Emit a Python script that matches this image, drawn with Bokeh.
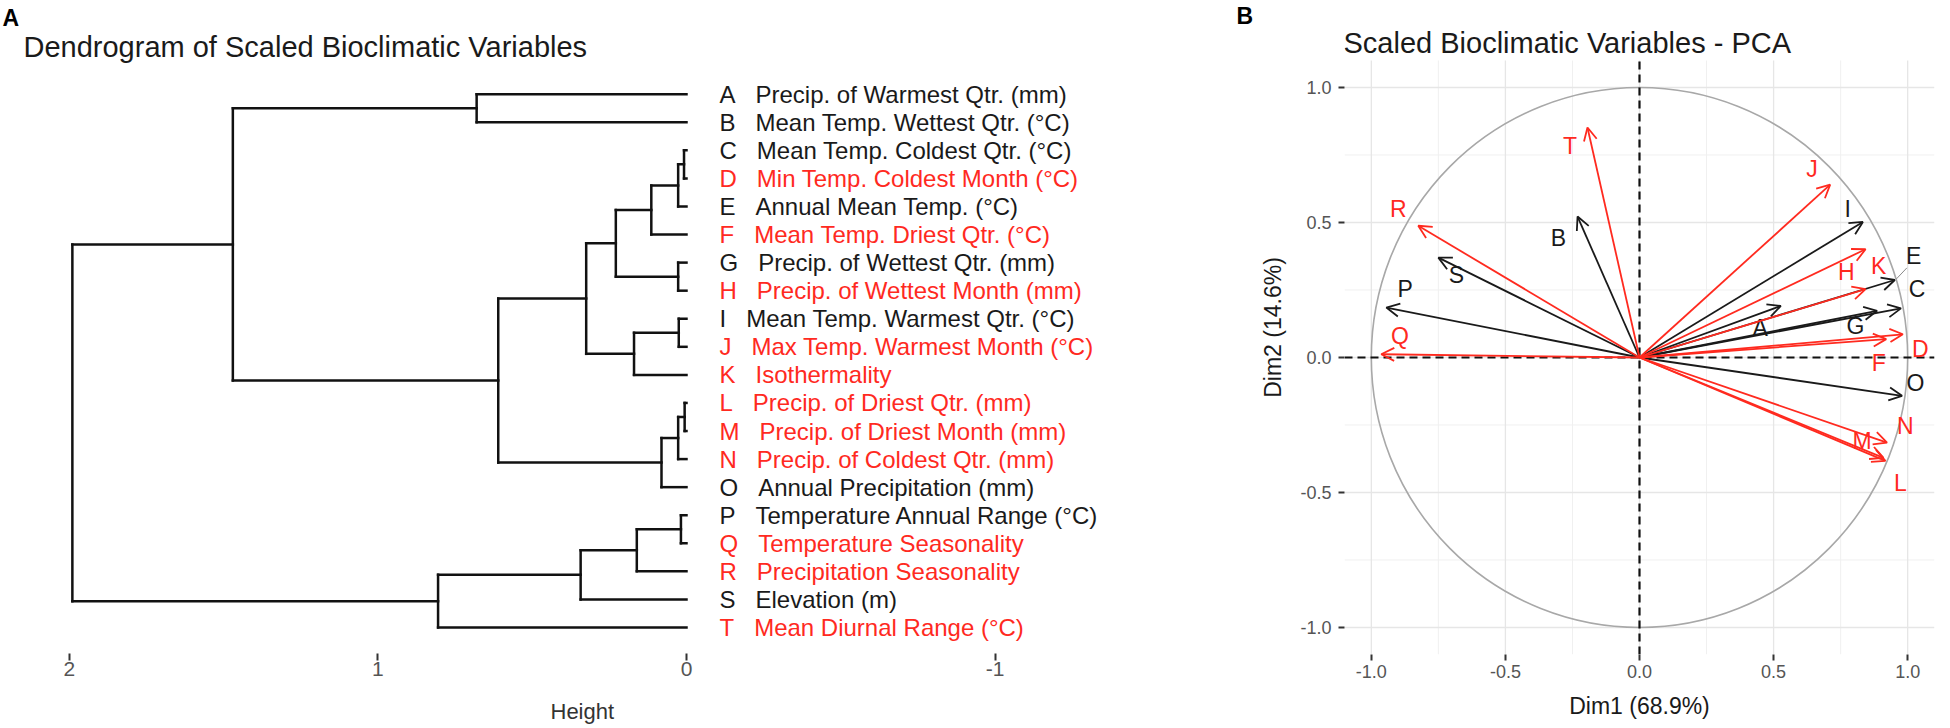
from bokeh.plotting import figure
from bokeh.models import ColumnDataSource, Range1d, FixedTicker, Arrow, OpenHead, Title
from bokeh.layouts import row
from bokeh.embed import file_html
from bokeh.resources import INLINE
from bokeh.core.properties import value

FONT = "Liberation Sans"
RED = "#ff2a1f"
INK = "#1a1a1a"

# ---------------- data ----------------
codes = list("ABCDEFGHIJKLMNOPQRST")
descriptions = [
    "Precip. of Warmest Qtr. (mm)",
    "Mean Temp. Wettest Qtr. (°C)",
    "Mean Temp. Coldest Qtr. (°C)",
    "Min Temp. Coldest Month (°C)",
    "Annual Mean Temp. (°C)",
    "Mean Temp. Driest Qtr. (°C)",
    "Precip. of Wettest Qtr. (mm)",
    "Precip. of Wettest Month (mm)",
    "Mean Temp. Warmest Qtr. (°C)",
    "Max Temp. Warmest Month (°C)",
    "Isothermality",
    "Precip. of Driest Qtr. (mm)",
    "Precip. of Driest Month (mm)",
    "Precip. of Coldest Qtr. (mm)",
    "Annual Precipitation (mm)",
    "Temperature Annual Range (°C)",
    "Temperature Seasonality",
    "Precipitation Seasonality",
    "Elevation (m)",
    "Mean Diurnal Range (°C)",
]
selected = ["D", "F", "H", "J", "K", "L", "M", "N", "Q", "R", "T"]

# hierarchical clustering merges (leaves 0..19, merge k creates node 20+k)
merge_left = [2, 11, 15, 8, 6, 20, 21, 26, 25, 22, 23, 28, 31, 29, 32, 0, 33, 35, 37]
merge_right = [3, 12, 16, 9, 7, 4, 13, 14, 5, 17, 10, 24, 30, 18, 27, 1, 19, 34, 36]
merge_height = [0.008, 0.006, 0.018, 0.025, 0.027, 0.027, 0.027, 0.081, 0.114,
                0.161, 0.170, 0.229, 0.325, 0.343, 0.610, 0.680, 0.805, 1.470, 1.990]
height_ticks = [2, 1, 0, -1]

# PCA variable coordinates
dim1 = [0.527, -0.231, 0.975, 0.982, 0.952, 0.920, 0.886, 0.843, 0.833, 0.711,
        0.843, 0.917, 0.910, 0.923, 0.979, -0.944, -0.963, -0.825, -0.750, -0.194]
dim2 = [0.191, 0.522, 0.182, 0.086, 0.287, 0.068, 0.173, 0.253, 0.502, 0.640,
        0.401, -0.383, -0.372, -0.315, -0.142, 0.185, 0.012, 0.488, 0.370, 0.852]
label_x = [0.450, -0.302, 1.035, 1.047, 1.022, 0.892, 0.805, 0.771, 0.776, 0.643,
           0.892, 0.973, 0.830, 0.991, 1.029, -0.874, -0.893, -0.899, -0.683, -0.259]
label_y = [0.111, 0.444, 0.253, 0.031, 0.377, -0.019, 0.117, 0.315, 0.549, 0.697,
           0.340, -0.463, -0.309, -0.253, -0.093, 0.253, 0.080, 0.549, 0.304, 0.784]
dim_ticks = [-1.0, -0.5, 0.0, 0.5, 1.0]
dim_minor_ticks = [-0.75, -0.25, 0.25, 0.75]

colors = [RED if c in selected else INK for c in codes]
n = len(codes)

# ---------------- dendrogram ----------------
node_y = [float(n - i) for i in range(n)]
node_h = [0.0] * n
sx0, sy0, sx1, sy1 = [], [], [], []
for a, b, h in zip(merge_left, merge_right, merge_height):
    ya, yb = node_y[a], node_y[b]
    sx0 += [h, node_h[a], node_h[b]]
    sy0 += [ya, ya, yb]
    sx1 += [h, h, h]
    sy1 += [yb, ya, yb]
    node_y.append((ya + yb) / 2.0)
    node_h.append(h)

p1 = figure(frame_width=1257, frame_height=653,
            x_range=Range1d(2.2229, -1.8503), y_range=Range1d(0.0737, 23.338),
            min_border_left=0, min_border_right=0, min_border_top=0, min_border_bottom=50,
            output_backend="svg", toolbar_location=None, title=None,
            y_axis_location=None)
p1.outline_line_color = None
p1.grid.visible = False

p1.segment(x0=sx0, y0=sy0, x1=sx1, y1=sy1, line_color="#111111", line_width=2.5,
           line_cap="square")

leaf_src = ColumnDataSource(dict(
    x=[-0.1069] * n,
    y=node_y[:n],
    text=[c + "\u00a0\u00a0\u00a0" + d for c, d in zip(codes, descriptions)],
    color=colors,
))
p1.text(x="x", y="y", text="text", text_color="color", source=leaf_src,
        text_font=value(FONT), text_font_size="24px", text_align="left",
        text_baseline="middle")

# panel title and tags (inside the frame area)
p1.text(x=[2.1484], y=[21.664], text=["Dendrogram of Scaled Bioclimatic Variables"],
        text_font=value(FONT), text_font_size="29px", text_color=INK,
        text_align="left", text_baseline="alphabetic")
p1.text(x=[2.2165, -1.7823], y=[22.732, 22.768], text=["A", "B"], text_font=value(FONT),
        text_font_size="23px", text_font_style="bold", text_color="#000000",
        text_align="left", text_baseline="alphabetic")

ax = p1.xaxis[0]
ax.ticker = FixedTicker(ticks=height_ticks)
ax.major_label_overrides = {t: str(t) for t in height_ticks}
ax.axis_line_color = None
ax.major_tick_in = 0
ax.major_tick_out = 7
ax.major_tick_line_width = 2
ax.major_tick_line_color = "#333333"
ax.minor_tick_line_color = None
ax.major_label_standoff = 1
ax.major_label_text_font = FONT
ax.major_label_text_font_size = "21px"
ax.major_label_text_color = "#555555"
p1.add_layout(Title(text="Height", align="left", offset=550, standoff=36,
                    text_font=FONT, text_font_size="22px", text_font_style="normal",
                    text_color="#333333"), "below")

# ---------------- PCA ----------------
p2 = figure(frame_width=590, frame_height=654,
            x_range=Range1d(-1.1, 1.1), y_range=Range1d(-1.1, 1.3222),
            min_border_left=86, min_border_right=1, min_border_top=0, min_border_bottom=66,
            output_backend="svg", toolbar_location=None, title=None)
p2.outline_line_color = None
p2.grid.visible = False

for axis in (p2.xaxis[0], p2.yaxis[0]):
    axis.ticker = FixedTicker(ticks=dim_ticks)
    axis.major_label_overrides = {t: "%.1f" % t for t in dim_ticks}
    axis.axis_line_color = None
    axis.major_tick_in = 0
    axis.major_tick_out = 6
    axis.major_tick_line_width = 2
    axis.major_tick_line_color = "#333333"
    axis.minor_tick_line_color = None
    axis.major_label_text_font = FONT
    axis.major_label_text_font_size = "18px"
    axis.major_label_text_color = "#555555"
    axis.axis_label_text_font = FONT
    axis.axis_label_text_font_size = "23px"
    axis.axis_label_text_font_style = "normal"
    axis.axis_label_text_color = INK
p2.xaxis[0].axis_label = "Dim1 (68.9%)"
p2.xaxis[0].major_label_standoff = 4
p2.xaxis[0].axis_label_standoff = 12
p2.yaxis[0].axis_label = "Dim2 (14.6%)"
p2.yaxis[0].major_label_standoff = 7
p2.yaxis[0].axis_label_standoff = 11

# panel grid (limited to the panel, so that the title area above stays clear)
lo, hi = -1.1, 1.1
for ticks, col, wid in ((dim_minor_ticks, "#f0f0f0", 1.0), (dim_ticks, "#e6e6e6", 1.3)):
    p2.segment(x0=ticks, y0=[lo] * len(ticks), x1=ticks, y1=[hi] * len(ticks),
               line_color=col, line_width=wid)
    p2.segment(x0=[lo] * len(ticks), y0=ticks, x1=[hi] * len(ticks), y1=ticks,
               line_color=col, line_width=wid)

p2.ellipse(x=[0], y=[0], width=[2], height=[2], fill_color=None,
           line_color="#a8a8a8", line_width=1.6)

p2.segment(x0=[0, lo], y0=[lo, 0], x1=[0, hi], y1=[hi, 0], line_color="#111111",
           line_width=2.2, line_dash="8 5")

# leader line for E
ie = codes.index("E")
p2.segment(x0=[label_x[ie] - 0.025], y0=[label_y[ie] - 0.045],
           x1=[dim1[ie] + 0.006], y1=[dim2[ie] + 0.004], line_color="#8a8a8a", line_width=1)

lab_src = ColumnDataSource(dict(x=label_x, y=label_y, text=codes, color=colors))
p2.text(x="x", y="y", text="text", text_color="color", source=lab_src,
        text_font=value(FONT), text_font_size="23px", text_align="center",
        text_baseline="middle")

for col in (INK, RED):
    idx = [i for i in range(n) if colors[i] == col]
    src = ColumnDataSource(dict(x0=[0.0] * len(idx), y0=[0.0] * len(idx),
                                x1=[dim1[i] for i in idx], y1=[dim2[i] for i in idx]))
    p2.add_layout(Arrow(end=OpenHead(size=13, line_color=col, line_width=1.8),
                        x_start="x0", y_start="y0", x_end="x1", y_end="y1",
                        line_color=col, line_width=1.8, source=src))

p2.text(x=[-1.1037], y=[1.163], text=["Scaled Bioclimatic Variables - PCA"],
        text_font=value(FONT), text_font_size="29px", text_color=INK,
        text_align="left", text_baseline="alphabetic")

layout = row(p1, p2)
open("out.html", "w").write(file_html(layout, INLINE))
